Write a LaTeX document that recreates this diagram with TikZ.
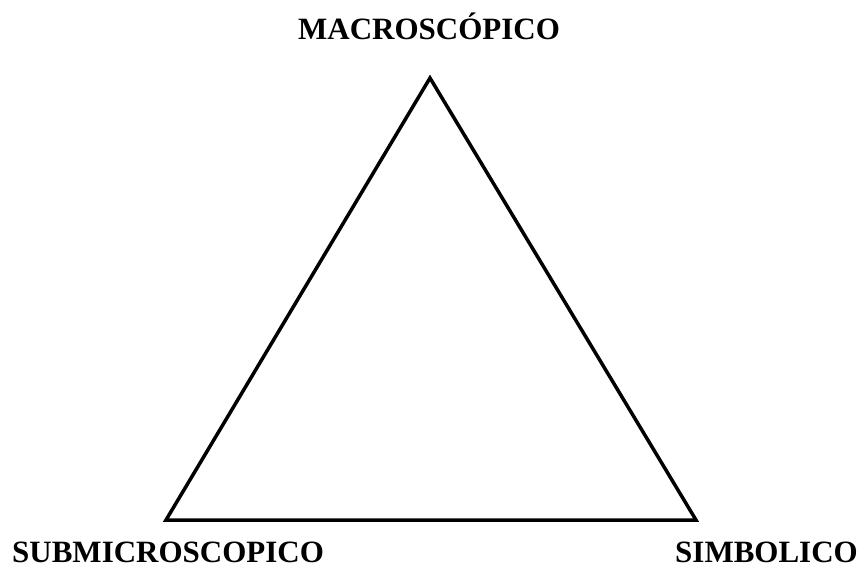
\documentclass[tikz,border=0pt]{standalone}
\usepackage{fontspec}
\setmainfont{Liberation Serif}
\begin{document}
\begin{tikzpicture}[x=1pt,y=-1pt,
  lbl/.style={inner sep=0pt,text depth=0pt,font=\fontsize{31}{37}\selectfont\bfseries},
  tri/.style={draw=black,line width=3.5pt,line join=miter}]
\useasboundingbox (0,0) rectangle (862,567);
\coordinate (top) at (430,78);
\coordinate (bl) at (166,520);
\coordinate (br) at (696,520);
\draw[tri] (top) -- (bl) -- (br) -- cycle;
\node[lbl,anchor=base] (macro) at (429,40) {MACROSCÓPICO};
\node[lbl,anchor=base west] (submicro) at (12,562) {SUBMICROSCOPICO};
\node[lbl,anchor=base east] (simb) at (858,562) {SIMBOLICO};
\end{tikzpicture}
\end{document}
